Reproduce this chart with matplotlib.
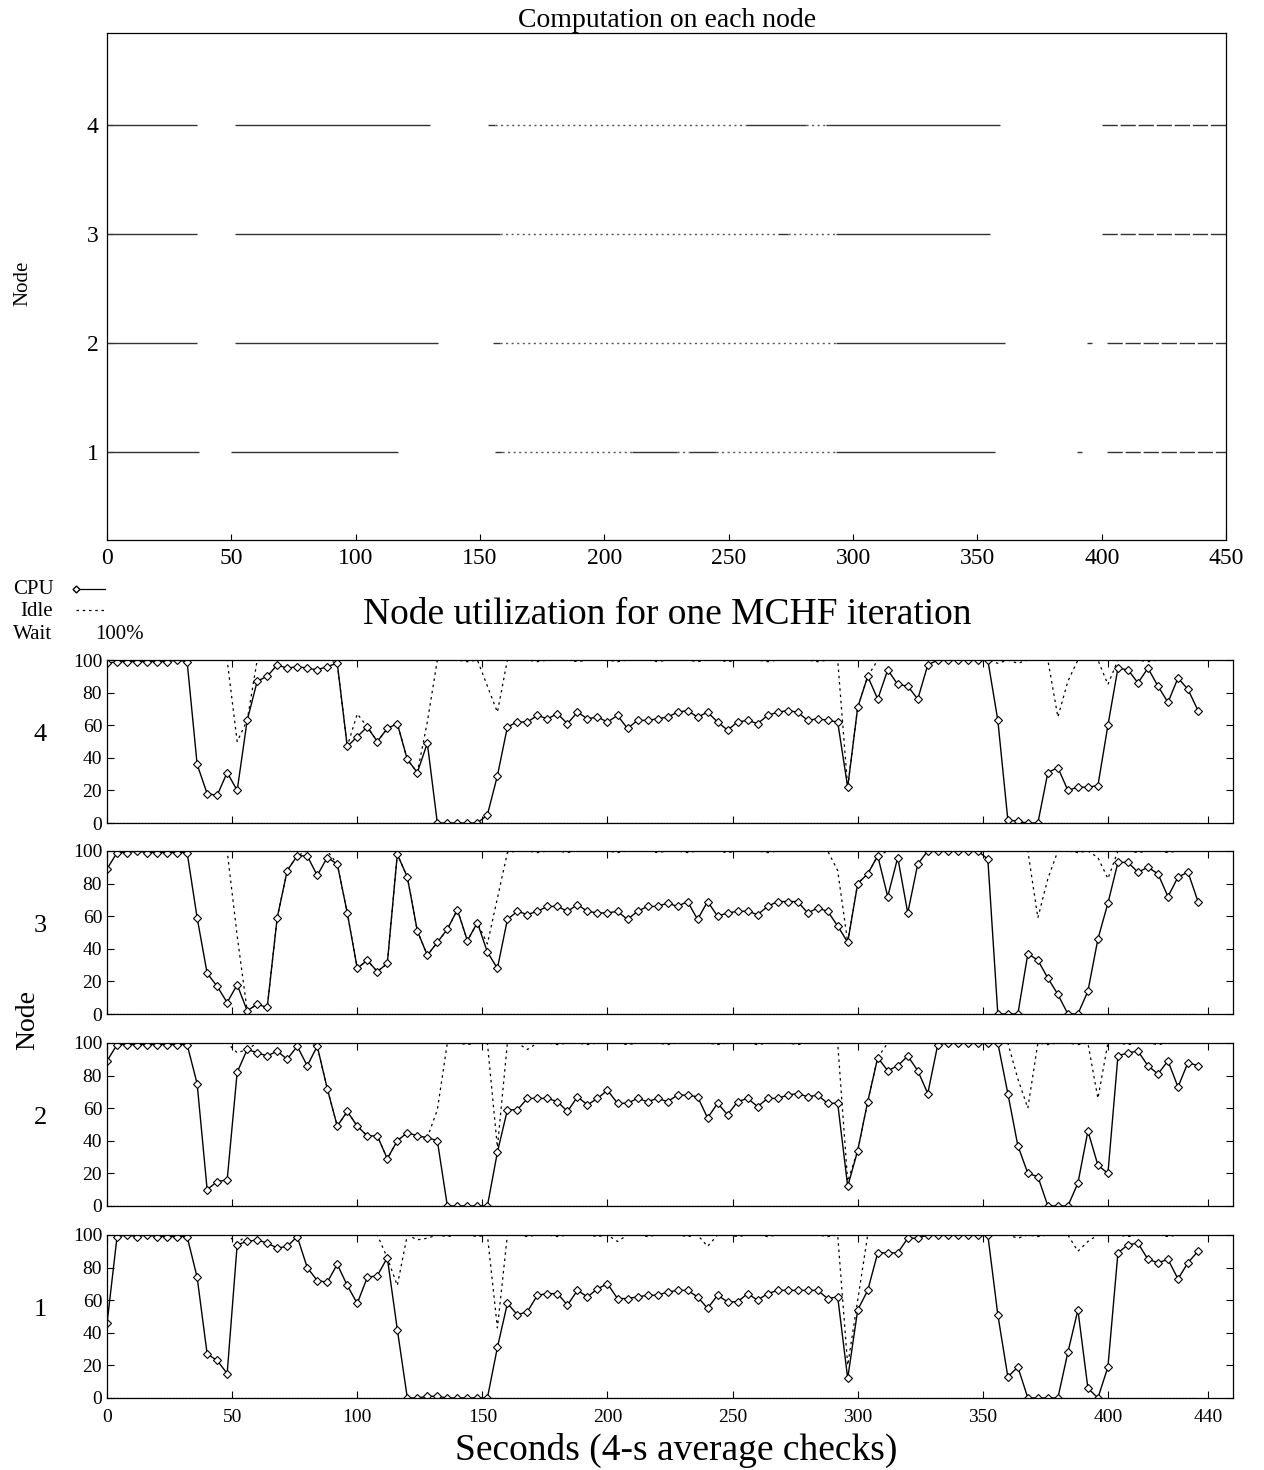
import matplotlib
matplotlib.use("Agg")
import matplotlib.pyplot as plt
from matplotlib.lines import Line2D
import numpy as np

plt.rcParams['font.family'] = ['Liberation Serif', 'DejaVu Serif']

# ---------------- data ----------------
# top chart: computation intervals per node (seconds)
nodes = [1, 2, 3, 4]
solid_spans = {
    4: [(0, 36), (51.5, 130), (153, 156), (257, 281), (289, 359)],
    3: [(0, 36), (51.5, 158), (270, 274), (293, 355)],
    2: [(0, 36), (51.5, 133), (155, 158), (293, 361), (394, 396)],
    1: [(0, 37), (50, 117), (156, 159), (211, 229), (234, 245), (293, 357), (390, 392)],
}
sparse_spans = {
    4: [(156, 257), (281, 289)],
    3: [(158, 270), (274, 293)],
    2: [(158, 293)],
    1: [(159, 211), (229, 234), (245, 293)],
}
dashed_spans = {
    4: [(400, 450)],
    3: [(400, 450)],
    2: [(402, 450)],
    1: [(402, 450)],
}

# bottom chart: 4-s average checks
seconds = np.arange(0, 440, 4)

cpu4 = [98, 99, 99, 99, 99, 99, 99, 100, 99, 36,
        18, 17, 31, 20, 63, 87, 90, 97, 95, 96,
        95, 94, 96, 98, 47, 53, 59, 50, 58, 61,
        39, 31, 49, 0, 0, 0, 0, 0, 5, 29,
        59, 62, 62, 66, 64, 67, 61, 68, 64, 65,
        62, 66, 58, 63, 63, 64, 65, 68, 69, 65,
        68, 62, 57, 62, 63, 61, 66, 68, 69, 68,
        63, 64, 63, 62, 22, 71, 90, 76, 94, 85,
        84, 76, 97, 100, 100, 100, 100, 100, 100, 63,
        2, 1, 0, 0, 31, 34, 20, 22, 22, 23,
        60, 95, 94, 86, 95, 84, 74, 89, 82, 69]
idle4 = [100, 100, 100, 100, 100, 100, 100, 100, 100, 100,
         100, 100, 100, 50, 63, 100, 100, 100, 100, 100,
         100, 100, 100, 98, 47, 67, 59, 50, 58, 61,
         39, 31, 62, 100, 100, 100, 99, 100, 84, 68,
         100, 100, 100, 99, 100, 100, 100, 99, 100, 100,
         100, 99, 100, 100, 100, 99, 100, 100, 100, 99,
         100, 100, 99, 100, 100, 100, 99, 100, 100, 100,
         100, 99, 100, 100, 22, 71, 90, 100, 100, 100,
         100, 100, 100, 100, 100, 100, 100, 100, 100, 98,
         100, 98, 100, 100, 100, 65, 87, 100, 100, 100,
         85, 100, 100, 100, 99, 100, 100, 100, 100, 100]

cpu3 = [89, 99, 99, 100, 99, 99, 99, 99, 99, 59,
        25, 17, 7, 18, 2, 6, 4, 59, 88, 97,
        97, 85, 96, 92, 62, 28, 33, 26, 31, 98,
        84, 51, 36, 44, 52, 64, 45, 56, 38, 28,
        58, 63, 61, 63, 66, 66, 63, 67, 63, 62,
        62, 63, 58, 63, 66, 66, 68, 66, 69, 58,
        69, 60, 62, 63, 63, 61, 66, 69, 69, 69,
        62, 65, 63, 54, 44, 80, 86, 97, 72, 96,
        62, 92, 100, 100, 100, 100, 100, 100, 95, 0,
        0, 0, 37, 33, 22, 12, 0, 0, 14, 46,
        68, 93, 93, 87, 90, 86, 72, 84, 87, 69]
idle3 = [100, 100, 100, 100, 100, 100, 100, 100, 100, 100,
         100, 100, 100, 48, 2, 6, 4, 59, 88, 97,
         100, 100, 100, 92, 62, 28, 33, 26, 31, 98,
         84, 51, 36, 44, 52, 64, 45, 56, 43, 71,
         99, 100, 100, 99, 100, 100, 99, 100, 100, 100,
         100, 99, 100, 100, 100, 99, 100, 100, 99, 100,
         100, 100, 99, 100, 100, 100, 99, 100, 100, 100,
         100, 100, 100, 88, 44, 80, 86, 97, 100, 100,
         100, 100, 100, 100, 100, 100, 100, 100, 100, 100,
         100, 100, 100, 59, 83, 100, 100, 99, 100, 96,
         83, 100, 100, 99, 100, 100, 99, 100, 100, 100]

cpu2 = [89, 99, 99, 99, 99, 99, 99, 99, 99, 75,
        10, 15, 16, 82, 96, 94, 92, 95, 90, 98,
        86, 98, 72, 49, 58, 49, 43, 43, 29, 40,
        45, 43, 42, 40, 0, 0, 0, 0, 0, 33,
        59, 59, 66, 66, 66, 64, 58, 67, 62, 66,
        71, 63, 63, 66, 64, 66, 64, 68, 68, 67,
        54, 63, 56, 64, 66, 61, 66, 66, 68, 69,
        67, 68, 63, 63, 12, 34, 64, 91, 83, 86,
        92, 83, 69, 99, 100, 100, 100, 100, 100, 100,
        69, 37, 20, 18, 0, 0, 0, 14, 46, 25,
        20, 92, 94, 95, 86, 81, 89, 73, 88, 86]
idle2 = [100, 100, 100, 100, 100, 100, 100, 100, 100, 100,
         100, 100, 100, 94, 96, 100, 100, 100, 100, 100,
         100, 98, 72, 49, 58, 49, 43, 43, 29, 40,
         45, 43, 42, 59, 100, 100, 99, 100, 100, 36,
         100, 100, 96, 100, 100, 99, 100, 100, 99, 100,
         100, 100, 99, 100, 100, 100, 99, 100, 100, 100,
         100, 99, 100, 100, 100, 99, 100, 100, 100, 99,
         100, 100, 100, 100, 15, 34, 64, 91, 100, 100,
         100, 100, 100, 100, 100, 100, 100, 100, 100, 100,
         100, 78, 60, 100, 99, 100, 100, 99, 100, 66,
         100, 100, 99, 100, 100, 99, 100, 100, 100, 100]

cpu1 = [46, 99, 100, 99, 100, 99, 99, 99, 99, 74,
        27, 23, 15, 94, 96, 97, 95, 92, 93, 99,
        80, 72, 71, 82, 69, 58, 74, 75, 86, 42,
        0, 0, 1, 1, 0, 0, 0, 0, 0, 31,
        58, 51, 53, 63, 64, 64, 57, 66, 62, 67,
        70, 61, 61, 62, 63, 63, 65, 66, 66, 62,
        55, 63, 59, 59, 64, 60, 64, 66, 66, 66,
        66, 66, 61, 62, 12, 54, 66, 89, 89, 89,
        98, 98, 100, 100, 100, 100, 100, 100, 100, 51,
        13, 19, 0, 0, 0, 0, 28, 54, 6, 0,
        19, 89, 94, 95, 85, 83, 85, 73, 83, 90]
idle1 = [100, 100, 100, 100, 100, 100, 100, 100, 100, 100,
         100, 100, 100, 95, 100, 100, 100, 100, 100, 100,
         100, 100, 100, 100, 100, 100, 100, 100, 86, 69,
         100, 97, 98, 100, 99, 100, 100, 99, 100, 43,
         100, 100, 99, 100, 100, 99, 100, 100, 100, 99,
         100, 96, 100, 100, 99, 100, 100, 100, 99, 100,
         93, 100, 100, 99, 100, 100, 99, 100, 100, 100,
         100, 100, 99, 100, 20, 60, 100, 100, 100, 100,
         100, 100, 100, 100, 100, 100, 100, 100, 100, 100,
         100, 98, 100, 99, 100, 100, 100, 90, 96, 100,
         100, 100, 99, 100, 100, 100, 99, 100, 100, 100]

wait_level = [0] * len(seconds)

panels = [(4, cpu4, idle4), (3, cpu3, idle3), (2, cpu2, idle2), (1, cpu1, idle1)]

# ---------------- figure ----------------
fig = plt.figure(figsize=(12.64, 14.70), dpi=100)

# top chart
ax = fig.add_axes([0.0847, 0.6327, 0.8853, 0.3449])
for n in nodes:
    for a, b in solid_spans[n]:
        ax.plot([a, b], [n, n], color='#333333', lw=1.0, solid_capstyle='butt')
    for a, b in sparse_spans[n]:
        ax.plot([a, b], [n, n], color='#555555', lw=1.0, linestyle=(0, (1.5, 2.5)))
    for a, b in dashed_spans[n]:
        ax.plot([a, b], [n, n], color='#333333', lw=1.0, linestyle=(0, (11, 2)))
ax.set_xlim(0, 450)
ax.set_ylim(0.19, 4.84)
ax.set_xticks(range(0, 451, 50))
ax.set_yticks(nodes)
ax.tick_params(direction='in', labelsize=17, length=4, top=False, right=False, pad=6)
ax.set_title('Computation on each node', fontsize=20, pad=4)
fig.text(0.018, 0.807, 'Node', fontsize=15, rotation=90, ha='center', va='center')
for s in ax.spines.values():
    s.set_linewidth(0.9)

# bottom chart
tops = [0.5510, 0.4211, 0.2905, 0.1599]
height = 0.1109
for (n, cpu, idle), top in zip(panels, tops):
    a = fig.add_axes([0.0847, top - height, 0.8908, height])
    a.plot(seconds, idle, color='black', lw=0.9, linestyle=(0, (2, 3)))
    a.plot(seconds, wait_level, color='black', lw=0.9, linestyle=(0, (1, 1.5)))
    a.plot(seconds, cpu, color='black', lw=1.0, marker='D', markersize=4.2,
           markerfacecolor='white', markeredgecolor='black', markeredgewidth=0.8)
    a.set_xlim(0, 450)
    a.set_ylim(0, 100)
    a.set_yticks(range(0, 101, 20))
    a.set_xticks(list(range(0, 401, 50)) + [440])
    a.tick_params(direction='in', labelsize=14, length=5, top=True, right=True)
    a.tick_params(axis='x', pad=8)
    if n != 1:
        a.set_xticklabels([])
    a.text(-0.0595, 0.54, str(n), transform=a.transAxes, fontsize=19,
           ha='center', va='center')
    for s in a.spines.values():
        s.set_linewidth(0.9)

fig.text(0.528, 0.5816, 'Node utilization for one MCHF iteration', fontsize=27,
         ha='center', va='center')
fig.text(0.535, 0.0136, 'Seconds (4-s average checks)', fontsize=27,
         ha='center', va='center')
fig.text(0.022, 0.306, 'Node', fontsize=20, rotation=90, ha='center', va='center')

# legend (gnuplot style, upper left)
fig.text(0.010, 1 - 594 / 1470, 'CPU', fontsize=15, ha='left', va='baseline')
fig.text(0.016, 1 - 616 / 1470, 'Idle', fontsize=15, ha='left', va='baseline')
fig.text(0.010, 1 - 639 / 1470, 'Wait', fontsize=15, ha='left', va='baseline')
fig.text(0.075, 1 - 639 / 1470, '100%', fontsize=15, ha='left', va='baseline')
fig.add_artist(Line2D([0.060, 0.083], [1 - 589 / 1470, 1 - 589 / 1470],
                      transform=fig.transFigure, color='black', lw=0.9, marker='D',
                      markersize=3.5, markevery=[0], markerfacecolor='white'))
fig.add_artist(Line2D([0.060, 0.083], [1 - 610 / 1470, 1 - 610 / 1470],
                      transform=fig.transFigure, color='black', lw=0.9,
                      linestyle=(0, (2, 3))))

fig.savefig('out.png', dpi=100)
